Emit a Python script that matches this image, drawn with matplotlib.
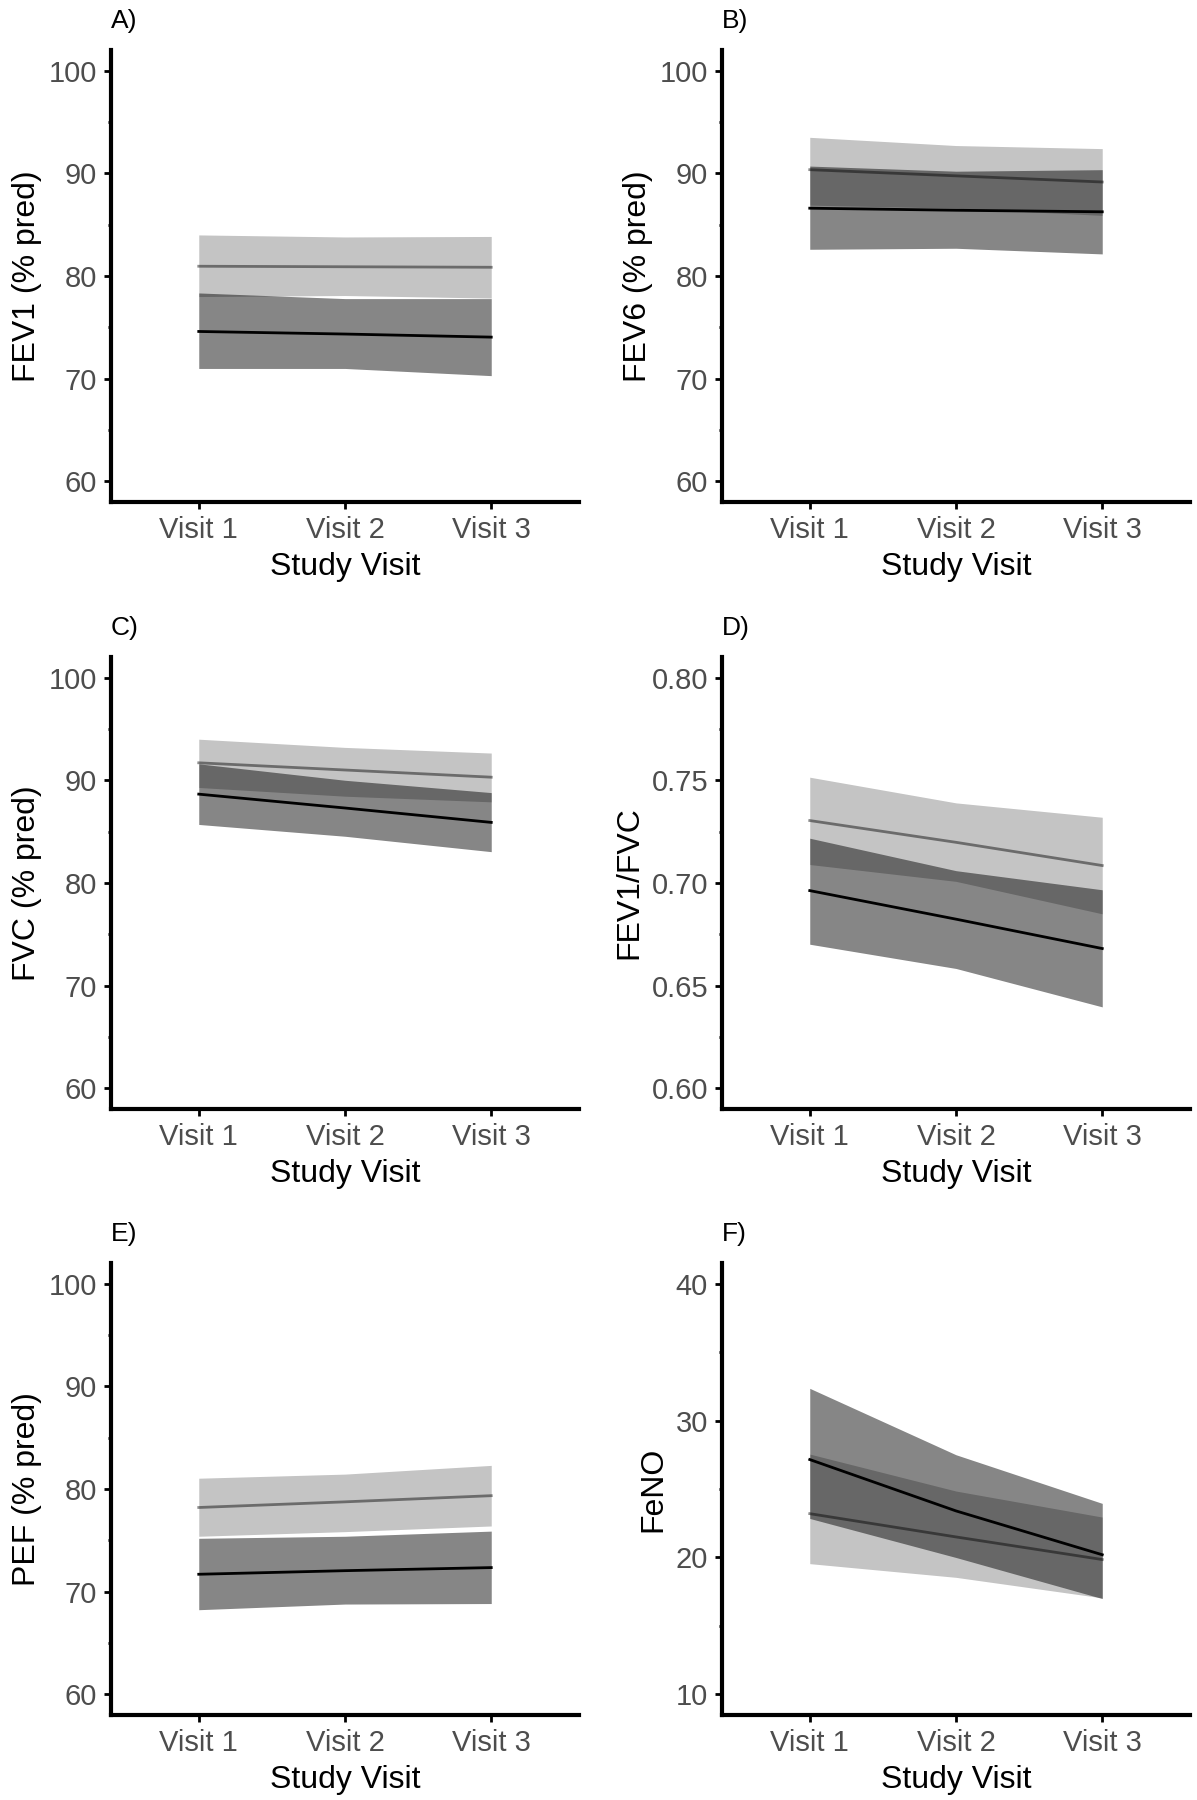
import numpy as np
import matplotlib.pyplot as plt
from matplotlib.ticker import MultipleLocator

plt.rcParams['font.family'] = ['Liberation Sans', 'DejaVu Sans']

visits = ['Visit 1', 'Visit 2', 'Visit 3']
x = np.arange(1, 4)

# group 1 (light ribbon, grey line) and group 2 (dark ribbon, black line)
fev1_g1 = [80.95, 80.9, 80.85]
fev1_g1_lo = [78.0, 78.1, 77.85]
fev1_g1_hi = [84.0, 83.8, 83.85]
fev1_g2 = [74.6, 74.35, 74.05]
fev1_g2_lo = [71.0, 71.0, 70.3]
fev1_g2_hi = [78.35, 77.8, 77.8]

fev6_g1 = [90.35, 89.75, 89.15]
fev6_g1_lo = [86.9, 86.6, 85.9]
fev6_g1_hi = [93.5, 92.7, 92.4]
fev6_g2 = [86.6, 86.4, 86.25]
fev6_g2_lo = [82.6, 82.7, 82.15]
fev6_g2_hi = [90.7, 90.2, 90.35]

fvc_g1 = [91.7, 91.0, 90.3]
fvc_g1_lo = [89.3, 88.45, 87.9]
fvc_g1_hi = [94.0, 93.2, 92.65]
fvc_g2 = [88.65, 87.3, 85.9]
fvc_g2_lo = [85.7, 84.55, 83.05]
fvc_g2_hi = [91.6, 90.0, 88.8]

ratio_g1 = [0.7304, 0.7198, 0.7085]
ratio_g1_lo = [0.709, 0.7008, 0.685]
ratio_g1_hi = [0.7515, 0.739, 0.732]
ratio_g2 = [0.6963, 0.6824, 0.6681]
ratio_g2_lo = [0.6702, 0.6584, 0.6397]
ratio_g2_hi = [0.7218, 0.706, 0.6967]

pef_g1 = [78.2, 78.75, 79.35]
pef_g1_lo = [75.4, 75.85, 76.4]
pef_g1_hi = [81.05, 81.45, 82.3]
pef_g2 = [71.7, 72.05, 72.35]
pef_g2_lo = [68.25, 68.8, 68.85]
pef_g2_hi = [75.2, 75.4, 75.9]

feno_g1 = [23.2, 21.5, 19.85]
feno_g1_lo = [19.55, 18.55, 17.05]
feno_g1_hi = [27.55, 24.85, 22.95]
feno_g2 = [27.15, 23.4, 20.2]
feno_g2_lo = [22.85, 20.0, 17.0]
feno_g2_hi = [32.35, 27.5, 23.95]

panels = [
    ('A)', 'FEV1 (% pred)', (60, 100, 10), fev1_g1, fev1_g1_lo, fev1_g1_hi, fev1_g2, fev1_g2_lo, fev1_g2_hi),
    ('B)', 'FEV6 (% pred)', (60, 100, 10), fev6_g1, fev6_g1_lo, fev6_g1_hi, fev6_g2, fev6_g2_lo, fev6_g2_hi),
    ('C)', 'FVC (% pred)', (60, 100, 10), fvc_g1, fvc_g1_lo, fvc_g1_hi, fvc_g2, fvc_g2_lo, fvc_g2_hi),
    ('D)', 'FEV1/FVC', (0.60, 0.80, 0.05), ratio_g1, ratio_g1_lo, ratio_g1_hi, ratio_g2, ratio_g2_lo, ratio_g2_hi),
    ('E)', 'PEF (% pred)', (60, 100, 10), pef_g1, pef_g1_lo, pef_g1_hi, pef_g2, pef_g2_lo, pef_g2_hi),
    ('F)', 'FeNO', (10, 40, 10), feno_g1, feno_g1_lo, feno_g1_hi, feno_g2, feno_g2_lo, feno_g2_hi),
]

W, H = 1197, 1800
fig = plt.figure(figsize=(W / 100, H / 100), dpi=100)

lefts = [111, 722]
tops = [50, 657, 1263]
aw, ah = 468, 452

for k, (tag, ylab, (lo, hi, step), g1, g1lo, g1hi, g2, g2lo, g2hi) in enumerate(panels):
    r, c = divmod(k, 2)
    ax = fig.add_axes([lefts[c] / W, 1 - (tops[r] + ah) / H, aw / W, ah / H])

    ax.fill_between(x, g1lo, g1hi, color='black', alpha=0.23, linewidth=0)
    ax.fill_between(x, g2lo, g2hi, color='black', alpha=0.475, linewidth=0)
    ax.plot(x, g1, color='black', alpha=0.45, lw=2)
    ax.plot(x, g2, color='black', lw=2)

    pad = (hi - lo) * 0.05
    ax.set_ylim(lo - pad, hi + pad)
    ax.set_xlim(0.4, 3.6)
    ax.set_yticks(np.arange(lo, hi + step / 2, step))
    ax.yaxis.set_minor_locator(MultipleLocator(step / 2))
    if step < 1:
        ax.set_yticklabels(['%.2f' % v for v in np.arange(lo, hi + step / 2, step)])
    ax.set_xticks(x)
    ax.set_xticklabels(visits)

    for s in ['top', 'right']:
        ax.spines[s].set_visible(False)
    for s in ['left', 'bottom']:
        ax.spines[s].set_linewidth(3)
    ax.tick_params(axis='both', which='major', length=5, width=2,
                   labelsize=21, labelcolor='#4d4d4d', pad=5)
    ax.tick_params(axis='y', which='minor', length=2.5, width=2)

    ax.set_ylabel(ylab, fontsize=23, labelpad=5)
    ax.set_xlabel('Study Visit', fontsize=23, labelpad=6)
    ax.text(0, 1 + 29 / ah, tag, transform=ax.transAxes, fontsize=19,
            ha='left', va='center')

fig.savefig('out.png', dpi=100)
